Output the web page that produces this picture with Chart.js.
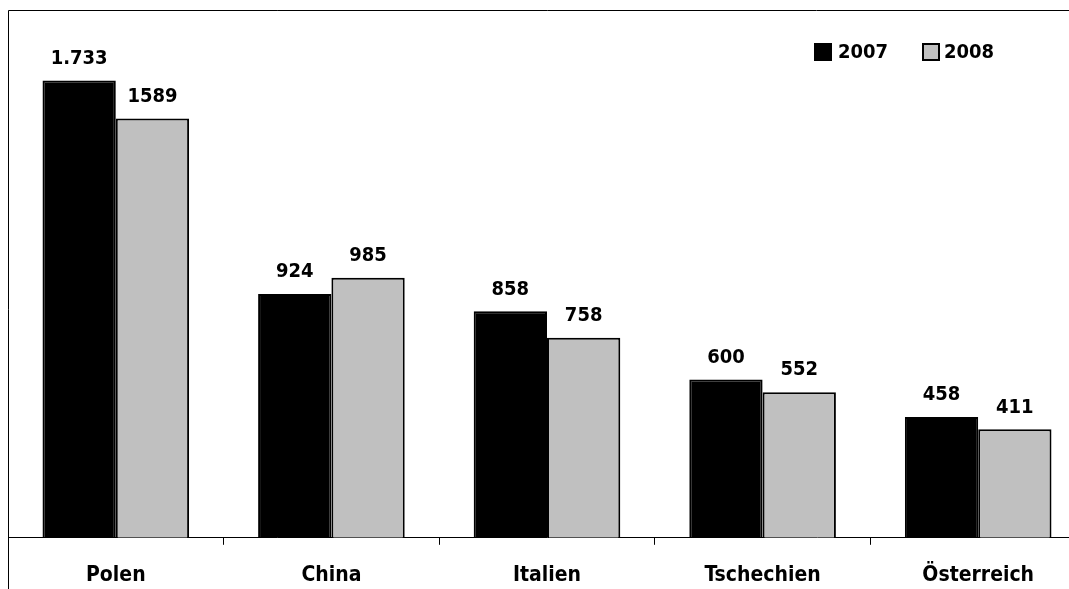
<!DOCTYPE html>
<html>
<head>
<meta charset="utf-8">
<script src="https://cdn.jsdelivr.net/npm/chart.js@4/dist/chart.umd.min.js"></script>
<style>
  html, body { margin: 0; padding: 0; background: #fff; overflow: hidden; }
  #wrap { position: absolute; left: 0; top: 0; width: 1090px; height: 608px; }
</style>
</head>
<body>
<div id="wrap"><canvas id="c"></canvas></div>
<script>
const categories = ['Polen', 'China', 'Italien', 'Tschechien', 'Österreich'];
const values2007 = [1733, 924, 858, 600, 458];
const values2008 = [1589, 985, 758, 552, 411];
const seriesNames = ['2007', '2008'];

const FONT = '"DejaVu Sans Condensed", "DejaVu Sans", sans-serif';

// value labels above each bar; the 2007 series uses a thousands separator
const valueLabels = {
  id: 'valueLabels',
  afterDatasetsDraw(chart) {
    const ctx = chart.ctx;
    ctx.save();
    ctx.font = 'bold 20px ' + FONT;
    ctx.fillStyle = '#000';
    ctx.textAlign = 'center';
    ctx.textBaseline = 'middle';
    chart.data.datasets.forEach((ds, di) => {
      chart.getDatasetMeta(di).data.forEach((bar, i) => {
        const v = ds.data[i];
        const txt = ds.groupSep ? v.toLocaleString('de-DE') : String(v);
        ctx.fillText(txt, bar.x, bar.y - 22);
      });
    });
    ctx.restore();
  }
};

// frame lines along the top and left of the plot area
const frame = {
  id: 'frame',
  afterDraw(chart) {
    const { ctx, chartArea: a } = chart;
    ctx.save();
    ctx.strokeStyle = '#000';
    ctx.lineWidth = 1;
    ctx.beginPath();
    ctx.moveTo(a.left + 0.5, chart.height);
    ctx.lineTo(a.left + 0.5, a.top + 0.5);
    ctx.lineTo(a.right, a.top + 0.5);
    ctx.stroke();
    ctx.restore();
  }
};

// legend drawn in the upper right of the plot area
const cornerLegend = {
  id: 'cornerLegend',
  afterDraw(chart) {
    const ctx = chart.ctx;
    const items = [{ x: 814, textX: 838 }, { x: 922, textX: 944 }];
    ctx.save();
    ctx.font = 'bold 20px ' + FONT;
    ctx.textAlign = 'left';
    ctx.textBaseline = 'middle';
    chart.data.datasets.forEach((ds, i) => {
      const it = items[i];
      ctx.fillStyle = ds.backgroundColor;
      ctx.fillRect(it.x, 43, 18, 18);
      ctx.strokeStyle = '#000';
      ctx.lineWidth = 2;
      ctx.strokeRect(it.x + 1, 44, 16, 16);
      ctx.fillStyle = '#000';
      ctx.fillText(ds.label, it.textX, 53);
    });
    ctx.restore();
  }
};

new Chart(document.getElementById('c'), {
  type: 'bar',
  data: {
    labels: categories,
    datasets: [
      { label: seriesNames[0], data: values2007, groupSep: true,
        backgroundColor: '#000000', borderColor: '#000000', borderWidth: 2 },
      { label: seriesNames[1], data: values2008, groupSep: false,
        backgroundColor: '#c0c0c0', borderColor: '#000000', borderWidth: 2 }
    ]
  },
  options: {
    responsive: true,
    maintainAspectRatio: false,
    animation: false,
    layout: { padding: { left: 8, right: 4, top: 10, bottom: 2 } },
    datasets: { bar: { barPercentage: 1, categoryPercentage: 0.68 } },
    plugins: { legend: { display: false }, tooltip: { enabled: false } },
    scales: {
      x: {
        offset: true,
        grid: { display: true, drawOnChartArea: false, drawTicks: true, tickLength: 7, color: '#000', offset: true },
        border: { display: true, color: '#000', width: 1 },
        ticks: { color: '#000', padding: 18, font: { family: FONT, weight: 'bold', size: 21 } }
      },
      y: { display: false, min: 0, max: 2000 }
    }
  },
  plugins: [valueLabels, frame, cornerLegend]
});
</script>
</body>
</html>
